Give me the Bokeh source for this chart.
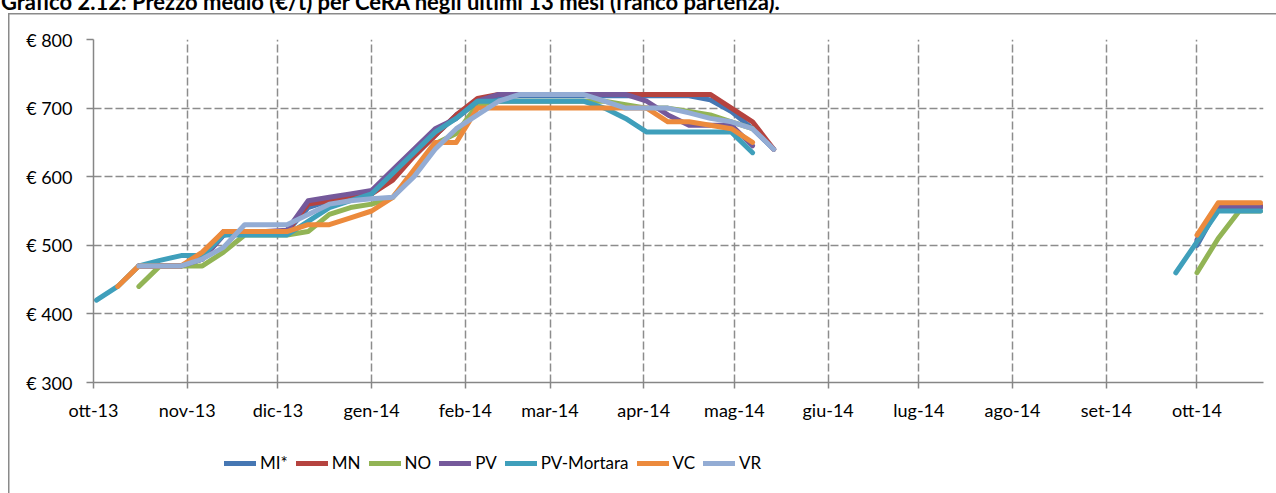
import math
import pandas as pd
from bokeh.plotting import figure
from bokeh.layouts import column
from bokeh.models import (ColumnDataSource, Range1d, FixedTicker, CustomJSTickFormatter,
                          PrintfTickFormatter, Legend, LegendItem, Div)
from bokeh.embed import file_html
from bokeh.resources import INLINE

N = None
TITLE = "Grafico 2.12: Prezzo medio (€/t) per CeRA negli ultimi 13 mesi (franco partenza)."

# weekly quotation dates (first block: Oct 2013 - May 2014, second block: Sep-Oct 2014)
dates_a = ["2013-10-02", "2013-10-09", "2013-10-16", "2013-10-23", "2013-10-30",
           "2013-11-06", "2013-11-13", "2013-11-20", "2013-11-27",
           "2013-12-04", "2013-12-11", "2013-12-18", "2013-12-25",
           "2014-01-01", "2014-01-08", "2014-01-15", "2014-01-22", "2014-01-29",
           "2014-02-05", "2014-02-12", "2014-02-19", "2014-02-26",
           "2014-03-05", "2014-03-12", "2014-03-19", "2014-03-26",
           "2014-04-02", "2014-04-09", "2014-04-16", "2014-04-23", "2014-04-30",
           "2014-05-07", "2014-05-14"]
gap_date = "2014-07-01"
dates_b = ["2014-09-24", "2014-10-01", "2014-10-08", "2014-10-15", "2014-10-22"]

month_ticks = ["2013-10-01", "2013-11-01", "2013-12-01", "2014-01-01", "2014-02-01",
               "2014-03-01", "2014-04-01", "2014-05-01", "2014-06-01", "2014-07-01",
               "2014-08-01", "2014-09-01", "2014-10-01"]
month_names = ["gen", "feb", "mar", "apr", "mag", "giu", "lug", "ago", "set", "ott", "nov", "dic"]
y_ticks = [300, 400, 500, 600, 700, 800]

series_names = ["MI*", "MN", "NO", "PV", "PV-Mortara", "VC", "VR"]
series_colors = ["#4677B3", "#B5433F", "#92B455", "#75599B", "#3F9FBB", "#EC8A3C", "#93ACD4"]

mi_a = [N, N, 470, 470, 470, 480, 515, 520, 520, 520, 555, 565, 570, 575, 600, 630, 660, 690,
        710, 716, 718, 718, 718, 718, 718, 718, 718, 718, 718, 712, 695, 670, 640]
mi_b = [N, 500, 555, 555, 555]
mn_a = [N, N, 470, 470, 470, 485, 520, 520, 520, 520, 560, 565, 570, 575, 595, 630, 660, 690,
        714, 720, 720, 720, 720, 720, 720, 720, 720, 720, 720, 720, 700, 680, 640]
mn_b = [N, 505, 558, 558, 558]
no_a = [N, N, 440, 470, 470, 470, 490, 515, 515, 515, 520, 545, 555, 560, 570, 605, 648, 663,
        705, 710, 710, 710, 710, 710, 710, 705, 700, 700, 695, 690, 680, 670, N]
no_b = [N, 460, 510, 550, 550]
pv_a = [N, N, 470, 470, 470, 480, 515, 520, 520, 522, 565, 570, 575, 580, 610, 640, 670, 685,
        710, 720, 720, 720, 720, 720, 720, 720, 710, 690, 675, 675, 675, 645, N]
pv_b = [N, 508, 556, 556, 556]
pvm_a = [420, 440, 470, 478, 485, 485, 515, 515, 515, 515, 535, 555, 565, 575, 605, 635, 665, 685,
         710, 710, 710, 710, 710, 710, 700, 685, 665, 665, 665, 665, 665, 635, N]
pvm_b = [460, 505, 550, 550, 550]
vc_a = [N, 440, 470, 470, 470, 490, 520, 520, 520, 520, 530, 530, 540, 550, 570, 610, 650, 650,
        700, 700, 700, 700, 700, 700, 700, 700, 700, 680, 680, 675, 670, 650, N]
vc_b = [N, 515, 562, 562, 562]
vr_a = [N, N, 470, 470, 470, 480, 497, 530, 530, 530, 545, 560, 565, 568, 570, 600, 640, 670,
        690, 710, 720, 720, 720, 720, 710, 700, 700, 700, 693, 685, 680, 670, 640]
vr_b = [N, N, N, N, N]

series_a = [mi_a, mn_a, no_a, pv_a, pvm_a, vc_a, vr_a]
series_b = [mi_b, mn_b, no_b, pv_b, pvm_b, vc_b, vr_b]

FONT = "Lato"
GRID = "#8C8C8C"
AXIS = "#868686"
BOX = "#8A8A8A"
SHIFT = 16          # layout starts 16px above the page top (title is cut like in the source)
TITLE_H = 28        # page -16 .. 12
CHART_H = 428       # page 12 .. 440
LEG_H = 53          # page 440 .. 493


def ms(s):
    return pd.Timestamp(s).value / 1e6


# ---- title strip (HTML text, top half cut off by the page edge) ----
title_div = Div(
    text=(f'<div style="font-family: {FONT}; font-weight: bold; font-size: 22px; '
          f'line-height: 22px; padding-top: 7px; margin-left: 1px; white-space: nowrap; '
          f'color: #000000;">{TITLE}</div>'),
    width=1276, height=TITLE_H, margin=0)

# ---- chart ----
p = figure(width=1276, height=CHART_H, x_axis_type="datetime",
           x_range=Range1d(ms("2013-10-01"), ms("2014-10-23")),
           y_range=Range1d(300, 800),
           output_backend="svg", toolbar_location=None,
           min_border_left=93, min_border_right=13, min_border_top=27, min_border_bottom=58)
p.outline_line_color = None
p.background_fill_color = None
p.border_fill_color = None

xt = FixedTicker(ticks=[ms(d) for d in month_ticks])
p.xaxis.ticker = xt
p.xgrid.ticker = xt
p.xaxis.formatter = CustomJSTickFormatter(args=dict(m=month_names), code="""
    const d = new Date(tick);
    return m[d.getUTCMonth()] + '-' + String(d.getUTCFullYear()).slice(2);
""")
yt = FixedTicker(ticks=y_ticks)
p.yaxis.ticker = yt
p.ygrid.ticker = yt
p.yaxis.formatter = PrintfTickFormatter(format="€ %d")

for ax in (p.xaxis[0], p.yaxis[0]):
    ax.axis_line_color = AXIS
    ax.axis_line_width = 1.5
    ax.major_tick_line_color = AXIS
    ax.major_tick_line_width = 1.5
    ax.major_tick_in = 0
    ax.minor_tick_out = 0
    ax.minor_tick_in = 0
    ax.major_label_text_font = FONT
    ax.major_label_text_font_size = "18px"
    ax.major_label_text_color = "#000000"
p.yaxis.major_tick_out = 7
p.yaxis.major_label_standoff = 14
p.xaxis.major_tick_out = 6
p.xaxis.major_label_standoff = 10

for g in (p.xgrid[0], p.ygrid[0]):
    g.grid_line_color = GRID
    g.grid_line_width = 1.5
    g.grid_line_dash = "8 3"

# ---- legend strip: a second canvas that only carries the legend ----
pl = figure(width=1276, height=LEG_H, x_range=Range1d(0, 1), y_range=Range1d(0, 1),
            x_axis_location=None, y_axis_location=None,
            output_backend="svg", toolbar_location=None,
            min_border_left=0, min_border_right=0, min_border_top=0, min_border_bottom=0)
pl.outline_line_color = None
pl.background_fill_color = None
pl.border_fill_color = None
pl.grid.visible = False

items = []
for name, color, va, vb in zip(series_names, series_colors, series_a, series_b):
    xs = [pd.Timestamp(d) for d in dates_a] + [pd.Timestamp(gap_date)] + [pd.Timestamp(d) for d in dates_b]
    ys = [math.nan if v is None else v for v in va] + [math.nan] + [math.nan if v is None else v for v in vb]
    src = ColumnDataSource(dict(x=xs, y=ys))
    p.line("x", "y", source=src, line_color=color, line_width=5,
           line_cap="round", line_join="round")
    # legend proxy: same style, kept outside the (invisible) legend canvas range
    rl = pl.line(x=[-5, -4], y=[-5, -4], line_color=color, line_width=5, line_cap="round")
    items.append(LegendItem(label=name, renderers=[rl]))

legend = Legend(items=items, orientation="horizontal", location=(131, 20),
                glyph_width=32, glyph_height=20, label_standoff=4, spacing=8,
                padding=0, margin=0, border_line_color=None, background_fill_alpha=0,
                label_text_font=FONT, label_text_font_size="17px", label_text_color="#000000")
pl.add_layout(legend)

box_top = 13 + SHIFT
layout = column(title_div, p, pl, spacing=0)
layout.styles = {
    "margin-top": f"-{SHIFT}px",
    "background": (f"linear-gradient({BOX},{BOX}) 8px {box_top}px / 1.5px 2000px no-repeat, "
                   f"linear-gradient({BOX},{BOX}) 8px {box_top}px / 3000px 1.5px no-repeat, #ffffff"),
}

open("out.html", "w").write(file_html(layout, INLINE))
